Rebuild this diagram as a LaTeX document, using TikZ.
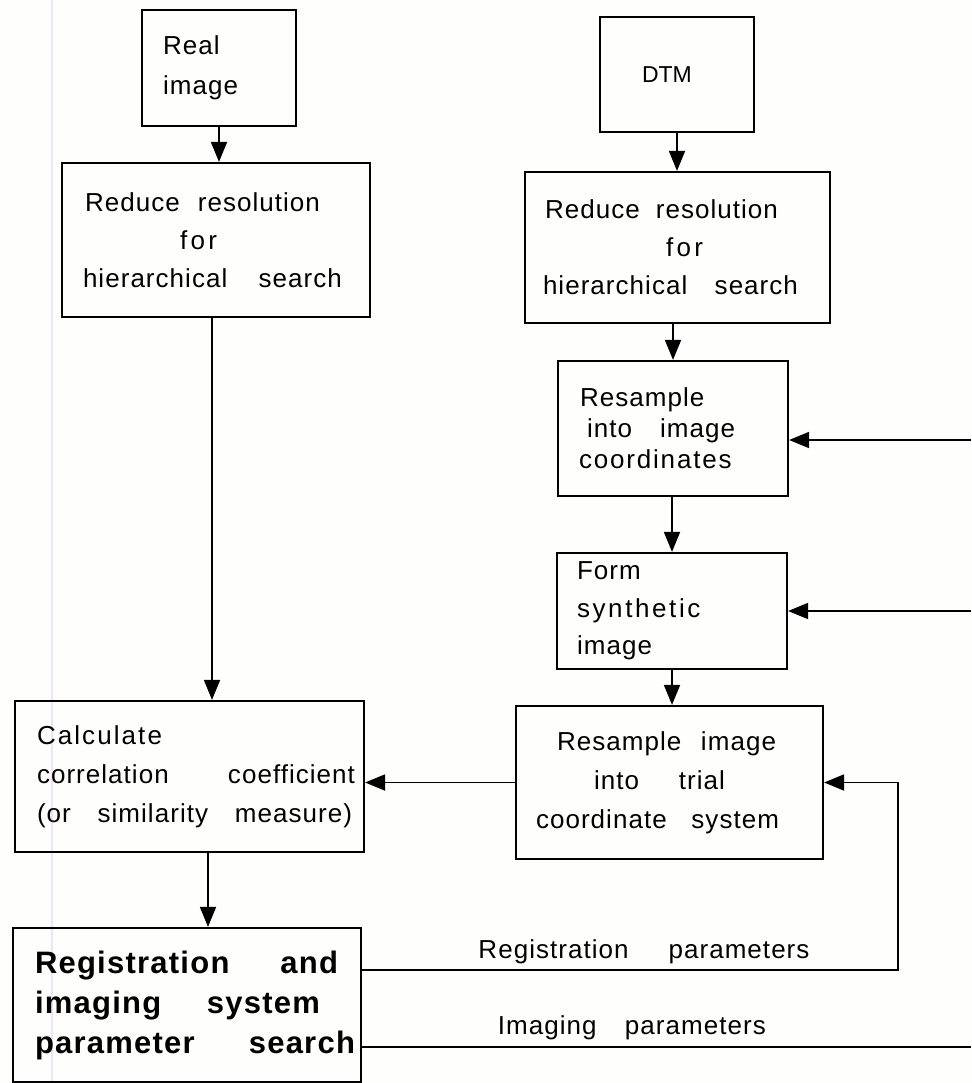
\documentclass[tikz,border=0pt]{standalone}
\usepackage{fontspec}
\setmainfont{Liberation Sans}[LetterSpace=4]
\usetikzlibrary{arrows.meta}
\newcommand{\jl}[2]{\makebox[#1][s]{\spaceskip=.3em plus 1fil\relax #2}}
\newcommand{\ind}[1]{\hspace*{#1}}
\definecolor{bg}{RGB}{254,254,252}
\definecolor{scanline}{RGB}{242,226,242}
\begin{document}
\begin{tikzpicture}[x=1pt,y=-1pt]
\tikzset{
  box/.style={draw, line width=2.2pt, rectangle, inner xsep=4pt, inner ysep=0pt, align=left},
  conn/.style={line width=1.8pt},
  arr/.style={conn, -{Triangle[length=20pt,width=16pt]}},
  lbl/.style={font=\fontsize{26}{30}\selectfont, inner sep=5pt},
}
\useasboundingbox (0,0) rectangle (971,1083);
\fill[bg] (0,0) rectangle (971,1083);
\draw[scanline, line width=1.2pt] (52,0) -- (52,1083);

\node[box, font=\fontsize{26}{40}\selectfont, minimum width=154pt, minimum height=116pt, text width=146pt] (real) at (219,68)
  {\ind{17pt}Real\\\ind{17pt}image};
\node[box, font=\fontsize{26}{38}\selectfont, minimum width=308pt, minimum height=154pt, text width=300pt] (redL) at (216,240)
  {\ind{19pt}\jl{235pt}{Reduce resolution}\\\ind{114pt}{\addfontfeature{LetterSpace=13}for}\\\ind{17pt}\jl{259pt}{hierarchical search}};
\node[box, font=\fontsize{23}{26}\selectfont, minimum width=154pt, minimum height=115pt, text width=146pt] (dtm) at (677,74.5)
  {\ind{38pt}{\addfontfeature{LetterSpace=0}DTM}};
\node[box, font=\fontsize{26}{38}\selectfont, minimum width=305pt, minimum height=151pt, text width=297pt] (redR) at (677.5,247.5)
  {\ind{16pt}\jl{233pt}{Reduce resolution}\\\ind{137pt}{\addfontfeature{LetterSpace=13}for}\\\ind{14pt}\jl{255pt}{hierarchical search}};
\node[box, font=\fontsize{26}{31}\selectfont, minimum width=230pt, minimum height=135pt, text width=222pt] (resA) at (673,428.5)
  {\ind{18pt}Resample\\\ind{25pt}\jl{148pt}{into image}\\\ind{17pt}{\addfontfeature{LetterSpace=7}coordinates}};
\node[box, font=\fontsize{26}{37.5}\selectfont, minimum width=230pt, minimum height=116pt, text width=222pt] (form) at (672,611)
  {\ind{16pt}Form\\\ind{16pt}{\addfontfeature{LetterSpace=10}synthetic}\\\ind{16pt}image};
\node[box, font=\fontsize{26}{39}\selectfont, minimum width=307pt, minimum height=153pt, text width=299pt] (resB) at (669.5,782.5)
  {\ind{37pt}\jl{219pt}{Resample image}\\\ind{74pt}\jl{131pt}{into trial}\\\ind{16pt}\jl{243pt}{coordinate system}};
\node[box, font=\fontsize{26}{39}\selectfont, minimum width=349pt, minimum height=151pt, text width=341pt] (calc) at (189.5,776.5)
  {\ind{18pt}{\addfontfeature{LetterSpace=8}Calculate}\\\ind{18pt}\jl{318pt}{correlation coefficient}\\\ind{18pt}\jl{315pt}{(or similarity measure)}};
\node[box, font=\bfseries\fontsize{31}{40}\selectfont, minimum width=348pt, minimum height=154pt, text width=340pt] (reg) at (187,1005)
  {\ind{18pt}\jl{303pt}{Registration and}\\\ind{18pt}\jl{285pt}{imaging system}\\\ind{18pt}\jl{320pt}{parameter search}};

\coordinate (rp) at (898,970);
\coordinate (edge) at (971,0);

\draw[arr] (real.south) -- (real.south |- redL.north);
\draw[arr] ([xshift=-4pt]redL.south) -- ([xshift=-4pt]redL.south |- calc.north);
\draw[arr] (dtm.south) -- (dtm.south |- redR.north);
\draw[arr] (resA.north |- redR.south) -- (resA.north);
\draw[arr] (form.north |- resA.south) -- (form.north);
\draw[arr] (form.south) -- (form.south |- resB.north);
\draw[arr] (resB.west) -- (resB.west -| calc.east);
\draw[arr] ([xshift=18.5pt]calc.south) -- ([xshift=18.5pt]calc.south |- reg.north);
\draw[arr] ([yshift=35pt]reg.east) -- node[lbl, above, pos=0.526] (lblreg) {\jl{331pt}{Registration parameters}} (rp) -- (rp |- resB.east) -- (resB.east);
\draw[conn] ([yshift=-42pt]reg.east) -- node[lbl, above, pos=0.443, inner sep=6.5pt] (lblimg) {\jl{268pt}{Imaging parameters}} ([yshift=-42pt]reg.east -| edge);
\draw[arr] ([yshift=-11.5pt]resA.east -| edge) -- ([yshift=-11.5pt]resA.east);
\draw[arr] (form.east -| edge) -- (form.east);
\end{tikzpicture}
\end{document}
